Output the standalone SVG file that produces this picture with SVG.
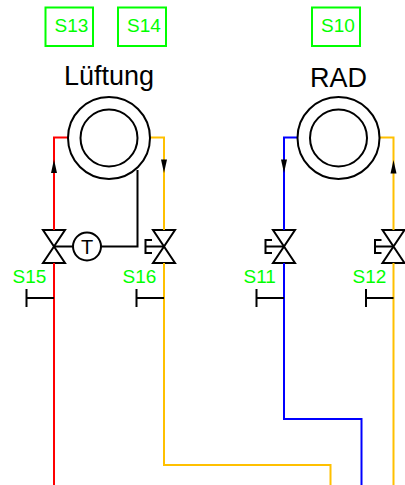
<svg xmlns="http://www.w3.org/2000/svg" width="405" height="485" viewBox="0 0 405 485">
<style>
.p{fill:none;stroke-width:2}
.k{fill:none;stroke:#000;stroke-width:2}
.s{fill:none;stroke:#00ff00;stroke-width:2}
.g{font-family:"Liberation Sans",Arial,sans-serif;font-size:19px;fill:#00ff00}
.t{font-family:"Liberation Sans",Arial,sans-serif;font-size:27px;fill:#000;text-anchor:middle}
.a{fill:#000;stroke:none}
.v{fill:#fff;stroke:#000;stroke-width:2;stroke-linejoin:miter}
</style>
<defs>
<g id="valve"><path class="v" d="M-11,-16.500H11L-11,16.500H11Z"/></g>
<g id="act"><path class="k" d="M0,0H-18M-12,-6.500H-18.500V6.500H-12"/></g>
<g id="stub"><path class="k" d="M0,0H-27.500M-27.500,-9V9"/></g>
</defs>
<g id="V15"><use href="#valve" x="54" y="246.500"/><text class="g" x="12.500" y="283">S15</text></g>
<g id="V16"><use href="#valve" x="164" y="246.500"/><text class="g" x="122.500" y="283">S16</text></g>
<g id="V11"><use href="#valve" x="284" y="246.500"/><text class="g" x="243.500" y="283">S11</text></g>
<g id="V12"><use href="#valve" x="393.500" y="246.500"/><text class="g" x="352.500" y="283">S12</text></g>
<g id="connectors">
<path class="p" stroke="#ff0000" d="M68,137.500H54V230M54,263V485"/>
<path class="p" stroke="#ffc000" d="M150,137.500H164V230M164,263V465H330.500V485"/>
<path class="p" stroke="#0000ff" d="M298,137.500H284V230M284,263V419H361.500V485"/>
<path class="p" stroke="#ffc000" d="M379,137.500H393.500V230M393.500,263V485"/>
<path class="k" d="M54,246.500H73M101,246.500H137.500V170"/>
<use href="#act" x="164" y="246.500"/>
<use href="#act" x="284" y="246.500"/>
<use href="#act" x="393.500" y="246.500"/>
<use href="#stub" x="54" y="298"/>
<use href="#stub" x="164" y="298"/>
<use href="#stub" x="284" y="298"/>
<use href="#stub" x="393.500" y="298"/>
<path class="a" d="M54,159.500L51,173H57Z"/>
<path class="a" d="M164,173L161,159.500H167Z"/>
<path class="a" d="M284,173L281,159.500H287Z"/>
<path class="a" d="M393.500,160L390.500,173.500H396.500Z"/>
</g>
<g id="S13"><rect class="s" x="45.500" y="7.500" width="47.500" height="38.500"/><text class="g" x="54.500" y="32">S13</text></g>
<g id="S14"><rect class="s" x="118" y="7.500" width="48" height="38.500"/><text class="g" x="127" y="32">S14</text></g>
<g id="S10"><rect class="s" x="312" y="7.500" width="48" height="38.500"/><text class="g" x="321" y="32">S10</text></g>
<g id="Lueftung"><text class="t" x="109" y="84.500">Lüftung</text><circle class="k" cx="109" cy="138" r="41"/><circle class="k" cx="109" cy="138" r="28.500"/></g>
<g id="RAD"><text class="t" x="338.500" y="87">RAD</text><circle class="k" cx="338.500" cy="138" r="41"/><circle class="k" cx="338.500" cy="138" r="28.500"/></g>
<g id="T"><circle class="k" cx="87" cy="246.500" r="14"/><text x="87" y="254" font-family="'Liberation Sans',Arial,sans-serif" font-size="20" text-anchor="middle">T</text></g>
</svg>
